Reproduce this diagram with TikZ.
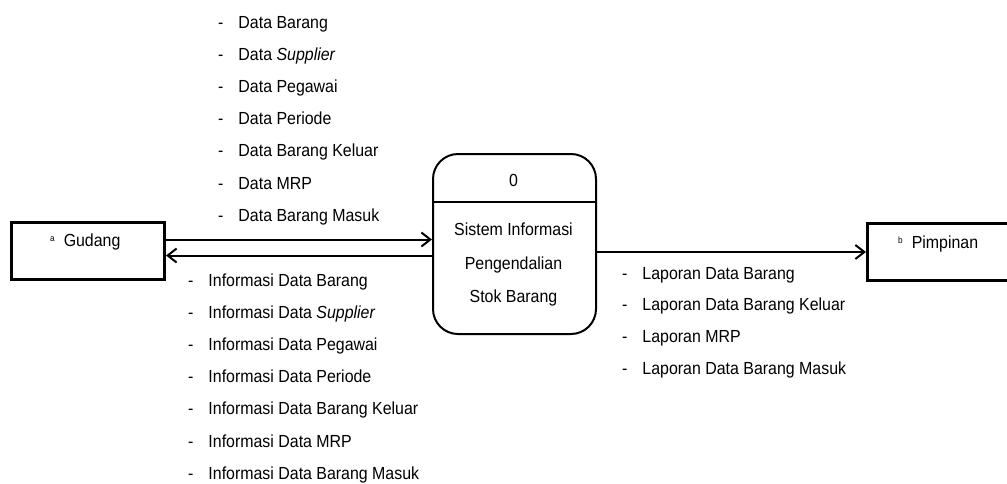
\documentclass[tikz,border=0pt]{standalone}
\usepackage{fontspec}
\setmainfont{Liberation Sans}[FakeStretch=0.91]
\usetikzlibrary{arrows.meta,calc}

\begin{document}
\begin{tikzpicture}[x=1pt,y=-1pt,
  entity/.style={draw,line width=3pt,rectangle,inner sep=0pt,anchor=north west},
  procbox/.style={draw,line width=2pt,rectangle,rounded corners=25pt,inner sep=0pt,anchor=north west},
  flow/.style={line width=2pt,-{Straight Barb[length=9pt,width=14pt,line width=2pt]}},
  txt/.style={inner sep=0pt,font=\fontsize{17.5}{20}\selectfont},
  item/.style={txt,anchor=base west},
]
\useasboundingbox (0,0) rectangle (1007,483);
\clip (0,0) rectangle (1007,483);

% external entities and the process
\node[entity,minimum width=153pt,minimum height=57pt] (gudang) at (10,221) {};
\node[entity,minimum width=180pt,minimum height=57pt] (pimpinan) at (866,222) {};
\node[procbox,minimum width=163pt,minimum height=180pt] (proc) at (432,153) {};

\node[txt,anchor=base west] (gudangtxt) at (50,246) {\raisebox{5pt}{\fontsize{9}{10}\selectfont a}\hspace{9pt}Gudang};
\node[txt,anchor=base west] (pimpinantxt) at (898,248) {\raisebox{5pt}{\fontsize{9}{10}\selectfont b}\hspace{9pt}Pimpinan};

% process header
\coordinate (divl) at ($(proc.north west)+(0,49)$);
\draw[line width=2pt] (divl) -- (divl -| proc.east);
\node[txt,anchor=base] (pnum) at (513.5,186) {0};
\node[txt,anchor=base] (pl1) at (513.5,235) {Sistem Informasi};
\node[txt,anchor=base] (pl2) at (513.5,269) {Pengendalian};
\node[txt,anchor=base] (pl3) at (513.5,302) {Stok Barang};

% data flows
\coordinate (g1) at ([yshift=11.5pt]gudang.east);
\coordinate (g2) at ([yshift=-4.5pt]gudang.east);
\draw[flow] (g1) -- (g1 -| proc.west);
\draw[flow] (g2 -| proc.west) -- (g2);
\draw[flow] (proc.east |- pimpinan.west) -- (pimpinan.west);

% flow labels
\foreach \t [count=\i from 0] in {Data Barang,Data \textit{Supplier},Data Pegawai,Data Periode,Data Barang Keluar,Data MRP,Data Barang Masuk}
  \node[item] (in\i) at (218,28+32.2*\i) {-\hspace{15pt}\t};
\foreach \t [count=\i from 0] in {Informasi Data Barang,Informasi Data \textit{Supplier},Informasi Data Pegawai,Informasi Data Periode,Informasi Data Barang Keluar,Informasi Data MRP,Informasi Data Barang Masuk}
  \node[item] (out\i) at (188,286+32.2*\i) {-\hspace{15pt}\t};
\foreach \t [count=\i from 0] in {Laporan Data Barang,Laporan Data Barang Keluar,Laporan MRP,Laporan Data Barang Masuk}
  \node[item] (rep\i) at (622,279+31.7*\i) {-\hspace{15pt}\t};
\end{tikzpicture}
\end{document}
